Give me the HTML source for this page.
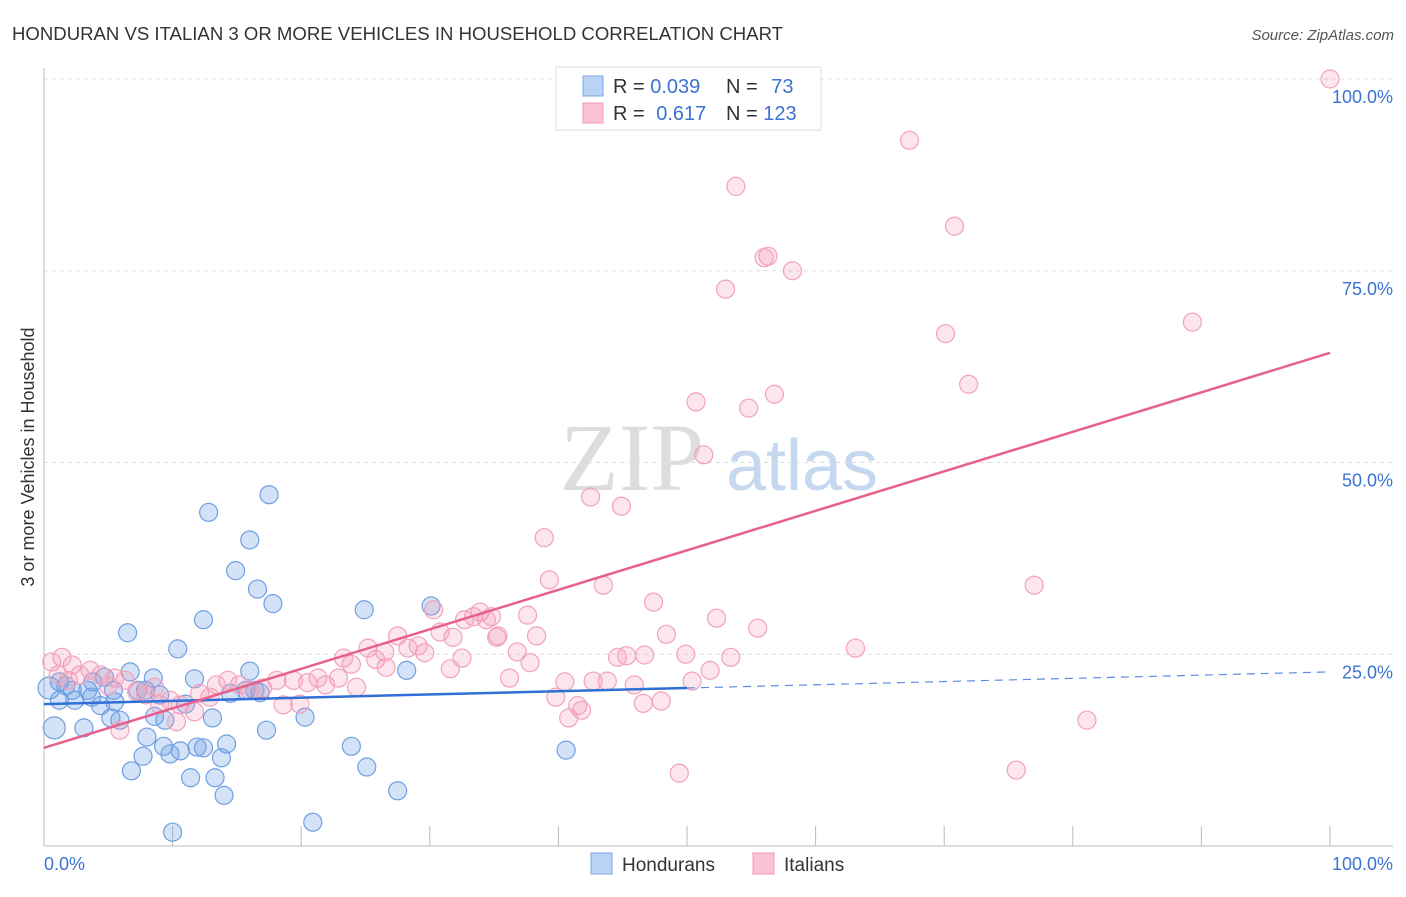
<!DOCTYPE html>
<html><head><meta charset="utf-8"><style>
body{margin:0;background:#fff;font-family:"Liberation Sans",sans-serif}
svg text{font-family:"Liberation Sans",sans-serif}
</style></head><body>
<svg id="chart" width="1406" height="892">
<text x="12" y="40" font-size="18" fill="#333" textLength="771" lengthAdjust="spacingAndGlyphs">HONDURAN VS ITALIAN 3 OR MORE VEHICLES IN HOUSEHOLD CORRELATION CHART</text>
<text x="1394" y="40" font-size="15" fill="#555" text-anchor="end" font-style="italic">Source: ZipAtlas.com</text>
<text x="34" y="457" font-size="18" fill="#333" text-anchor="middle" transform="rotate(-90 34 457)">3 or more Vehicles in Household</text>
<g><text x="632" y="490" font-size="96" fill="#ddd" font-family="Liberation Serif" text-anchor="middle" style="font-family:'Liberation Serif',serif">ZIP</text><text x="802" y="490" font-size="72" fill="#c5d8f0" text-anchor="middle">atlas</text></g>
<g id="grid"></g><g id="axes"></g><g id="pts"></g><g id="trend"></g>
<g>
<rect x="556" y="67" width="265" height="63" fill="#fff" stroke="#ddd"/>
<rect x="583" y="76" width="20" height="20" fill="#b9d2f5" stroke="#7aa7e8"/>
<rect x="583" y="103" width="20" height="20" fill="#fac3d3" stroke="#f09ab5"/>
<text x="613" y="93" font-size="20" fill="#333">R = <tspan fill="#3b73d1">0.039</tspan></text>
<text x="726" y="93" font-size="20" fill="#333">N = <tspan fill="#3b73d1" dx="8">73</tspan></text>
<text x="613" y="120" font-size="20" fill="#333">R = <tspan fill="#3b73d1" dx="6">0.617</tspan></text>
<text x="726" y="120" font-size="20" fill="#333">N = <tspan fill="#3b73d1">123</tspan></text>
</g>
<g>
<rect x="591" y="853" width="21" height="21" fill="#b9d2f5" stroke="#7aa7e8"/>
<text x="622" y="871" font-size="19" fill="#333">Hondurans</text>
<rect x="753" y="853" width="21" height="21" fill="#fac3d3" stroke="#f09ab5"/>
<text x="784" y="871" font-size="19" fill="#333">Italians</text>
</g>
</svg>
<script>
const yTicks=[25,50,75,100];
const yTickLabels=["25.0%","50.0%","75.0%","100.0%"];
const xTickLabels=["0.0%","100.0%"];
const hondX=[0.4,0.8,1.2,1.7,2.4,3.1,3.4,3.8,4.4,4.7,5.2,5.4,5.9,6.5,6.7,6.8,7.3,7.7,8,8.5,8.6,9.3,9.4,9.8,10,10.4,10.6,11,11.4,11.7,11.9,12.4,12.4,12.8,13.1,13.3,13.8,14,14.2,14.9,16,16,16.4,16.6,17.3,17.5,17.8,20.3,20.9,23.9,24.9,25.1,27.5,28.2,30.1,40.6,1.2,2.2,3.7,5.5,7.9,9,14.5,15.7,16.8];
const hondY=[20.6,15.4,19,20.9,19,15.4,20.3,21.4,18.3,22,16.7,20.3,16.4,27.8,22.7,9.8,20.3,11.7,14.2,21.9,16.9,13,16.4,12,1.8,25.7,12.4,18.5,8.9,21.8,12.9,12.8,29.5,43.5,16.7,8.9,11.5,6.6,13.3,35.9,39.9,22.8,20.3,33.5,15.1,45.8,31.6,16.8,3.1,13,30.8,10.3,7.2,22.9,31.3,12.5,21.4,20.3,19.4,18.8,20.3,19.7,19.9,20.3,20];
const italX=[100,67.3,53.8,70.8,56.3,56,58.2,53,89.3,70.1,71.9,56.8,50.7,54.8,51.3,42.5,44.9,38.9,39.3,43.5,77,47.4,52.3,37.6,55.5,48.4,35.3,38.3,63.1,49.9,46.7,45.3,44.6,53.4,51.8,50.4,45.9,43.8,42.7,40.5,48,46.6,39.8,41.5,40.8,41.8,49.4,81.1,75.6,37.8,36.8,36.2,35.2,33.9,34.4,34.8,32.7,33.4,31.8,30.8,30.3,32.5,31.6,29.6,29.1,28.3,27.5,26.5,26.6,25.8,25.2,23.9,23.3,24.3,22.9,21.9,21.3,20.5,19.9,19.4,18.6,18.1,17,16,15.2,14.3,13.4,12.9,12.1,11.7,10.6,10.3,9.8,9,8.6,7.9,7.2,6.3,5.9,5.5,5,4.4,3.6,2.8,2.2,1.4,0.6,1.9,1.1];
const italY=[100,92,86,80.8,76.9,76.7,75,72.6,68.3,66.8,60.2,58.9,57.9,57.1,51,45.5,44.3,40.2,34.7,34,34,31.8,29.7,30.1,28.4,27.6,27.4,27.4,25.8,25,24.9,24.8,24.6,24.6,22.9,21.5,21,21.5,21.5,21.4,18.9,18.6,19.4,18.3,16.7,17.7,9.5,16.4,9.9,23.9,25.3,21.9,27.2,30.5,29.5,29.9,29.5,29.9,27.2,27.9,30.8,24.5,23.1,25.2,26.1,25.8,27.4,25.3,23.3,24.3,25.8,23.7,24.5,20.7,21.9,21,21.9,21.3,18.5,21.6,18.4,21.6,20.6,20.3,21,21.6,21,19.4,19.9,17.5,18.4,16.2,19,18.4,20.7,19.7,20.1,21.6,15.1,21.9,20.9,22.3,22.9,22.3,23.6,24.6,24,21.6,22.3];
const hondTrend=[18.5,20.6,22.7];
const italTrend=[12.8,64.3];
const NS="http://www.w3.org/2000/svg";
const X=v=>44+v*12.86, Y=v=>846-v*7.67;
function mk(t,a,p){const e=document.createElementNS(NS,t);for(const k in a)e.setAttribute(k,a[k]);document.getElementById(p).appendChild(e);return e;}
yTicks.forEach((t,i)=>{
 const l=mk('line',{x1:44,x2:1393,y1:Y(t),y2:Y(t),stroke:'#ddd','stroke-dasharray':'4,4'},'grid');
 
 
 const tx=mk('text',{x:1393,y:Y(t)+24,'font-size':18,fill:'#3b73d1','text-anchor':'end'},'grid');
 tx.textContent=yTickLabels[i];
 
 
});
mk('line',{x1:44,x2:44,y1:68,y2:846,stroke:'#bbb'},'axes');
mk('line',{x1:44,x2:1393,y1:846,y2:846,stroke:'#bbb'},'axes');
for(let i=0;i<=10;i++){const t=mk('line',{x1:X(i*10),x2:X(i*10),y1:826,y2:846,stroke:'#bbb'},'axes');
 
 }
[[0,'start'],[100,'end']].forEach((d,i)=>{const t=mk('text',{x:i?1393:44,y:870,'font-size':18,fill:'#3b73d1','text-anchor':d[1]},'axes');t.textContent=xTickLabels[i];
 
 });
hondX.forEach((x,i)=>{const c=mk('circle',{cx:X(x),cy:Y(hondY[i]),r:i<2?11:9,fill:'rgba(110,160,230,0.3)',stroke:'#6f9fe3','stroke-width':1.2},'pts');
 
 });
italX.forEach((x,i)=>{const c=mk('circle',{cx:X(x),cy:Y(italY[i]),r:9,fill:'rgba(245,150,180,0.25)',stroke:'#f2a2bb','stroke-width':1.2},'pts');
 
 });
const b1=mk('line',{x1:X(0),y1:Y(hondTrend[0]),x2:X(50),y2:Y(hondTrend[1]),stroke:'#2f6fd6','stroke-width':2.5},'trend');


const b2=mk('line',{x1:X(50),y1:Y(hondTrend[1]),x2:X(100),y2:Y(hondTrend[2]),stroke:'#5a8ee0','stroke-width':1.2,'stroke-dasharray':'8,6'},'trend');


const p1=mk('line',{x1:X(0),y1:Y(italTrend[0]),x2:X(100),y2:Y(italTrend[1]),stroke:'#e5608c','stroke-width':2.5},'trend');


</script>
</body></html>
